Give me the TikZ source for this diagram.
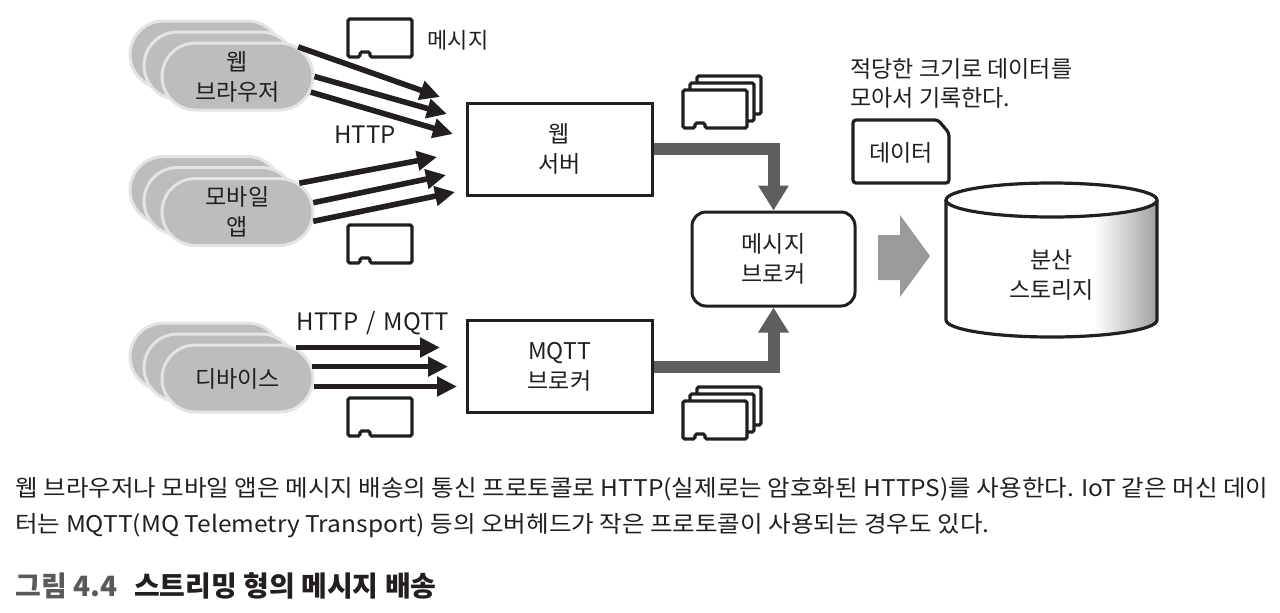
\documentclass[tikz,border=0pt]{standalone}
\usepackage{fontspec}
\setmainfont{Noto Sans CJK KR}
\usetikzlibrary{arrows.meta,shapes.misc,calc}
\definecolor{pillfill}{HTML}{BDBDBD}
\definecolor{pillline}{HTML}{E4E4E4}
\definecolor{conn}{HTML}{5E5E5E}
\definecolor{bigarrow}{HTML}{9A9A9A}
\definecolor{ink}{HTML}{231F20}
\definecolor{titlegray}{HTML}{5A5A5A}
\newlength\capw
\newcommand\capfont{\fontsize{11.5}{13}\selectfont}
\newcommand\capone{웹 브라우저나 모바일 앱은 메시지 배송의 통신 프로토콜로 HTTP(실제로는 암호화된 HTTPS)를 사용한다. IoT 같은 머신 데이}
\newcommand\captwo{터는 MQTT(MQ Telemetry Transport) 등의 오버헤드가 작은 프로토콜이 사용되는 경우도 있다.}
\tikzset{
  msgicon/.pic={\draw[icon] (0,0) -- (64,0) -- (64,38) -- (22,38) -- (22,33) -- (12,33) -- (12,38) -- (0,38) -- cycle;},
  msgstack/.pic={\draw[icon] (14,-14) rectangle (78,24);
                 \draw[icon] (7,-7) rectangle (71,31);
                 \draw[icon] (0,0) -- (64,0) -- (64,38) -- (22,38) -- (22,33) -- (12,33) -- (12,38) -- (0,38) -- cycle;}
}
\begin{document}
\settowidth{\capw}{\capfont\capone}%
\pgfmathsetmacro\capsx{626.5pt/\capw}%
\begin{tikzpicture}[x=0.5pt,y=-0.5pt,
  every node/.style={text=ink},
  icon/.style={draw=ink, line width=1.6pt, fill=white, rounded corners=0.8pt},
  pill/.style={rounded rectangle, draw=pillline, line width=1.5pt, fill=pillfill, minimum width=75.5pt, minimum height=33.5pt, inner sep=0pt},
  ptext/.style={align=center, inner sep=0pt, font=\fontsize{11.5}{15}\selectfont},
  box/.style={draw=ink, line width=1.5pt, fill=white, minimum width=92.5pt, minimum height=46pt, align=center, inner sep=0pt, font=\fontsize{11.5}{15}\selectfont},
  lbl/.style={inner sep=0pt, font=\fontsize{11}{13}\selectfont},
  blk/.style={draw=ink, line width=2.8pt, -{Triangle[length=10pt,width=9.5pt]}},
  gra/.style={draw=conn, line width=6pt, -{Triangle[length=12.5pt,width=14.5pt]}}
]
\useasboundingbox (0,0) rectangle (1280,612);
\fill[white] (0,0) rectangle (1280,612);

% ---- clients
\node[pill] (wbB) at (205.5,54.5) {};
\node[pill] (wbM) at (219.5,65.5) {};
\node[pill] (wb) at (237.5,76.5) {};
\node[ptext] (wbT) at (wb) {웹\\브라우저};

\node[pill] (maB) at (205.5,190) {};
\node[pill] (maM) at (219.5,201) {};
\node[pill] (ma) at (237.5,212) {};
\node[ptext] (maT) at (ma) {모바일\\앱};

\node[pill] (devB) at (205.5,356.5) {};
\node[pill] (devM) at (219.5,367.5) {};
\node[pill] (dev) at (237.5,378.5) {};
\node[ptext] (devT) at (dev) {디바이스};

% ---- servers
\node[box] (ws) at (559.5,149) {웹\\서버};
\node[box] (mq) at (559.5,366.5) {MQTT\\브로커};
\node[box, rounded corners=7pt, minimum width=81.5pt, minimum height=47pt] (mb) at (773.5,259) {메시지\\브로커};

% ---- arrows from clients
\coordinate (wt1) at (440,97);
\coordinate (wt2) at (447,114);
\coordinate (wt3) at (453,134);
\draw[blk] (wb.26) -- (wt1);
\draw[blk] (wb.east) -- (wt2);
\draw[blk] (wb.-12) -- (wt3);

\coordinate (mt1) at (437,157);
\coordinate (mt2) at (446,175);
\coordinate (mt3) at (455,192);
\draw[blk] (ma.25) -- (mt1);
\draw[blk] (ma.7) -- (mt2);
\draw[blk] (ma.-7) -- (mt3);

\coordinate (dx1) at (440,348);
\coordinate (dx2) at (448,366);
\coordinate (dx3) at (457,387);
\draw[blk] (dev.28) -- (dev.28 -| dx1);
\draw[blk] (dev.9.5) -- (dev.9.5 -| dx2);
\draw[blk] (dev.-6.4) -- (dev.-6.4 -| dx3);

% ---- labels and message icons
\node[lbl] (msgl) at (458,40) {메시지};
\node[lbl, font=\fontsize{12}{14}\selectfont] (http) at (365,135) {HTTP};
\node[lbl, font=\fontsize{12}{14}\selectfont] (httpm) at (373,323) {HTTP\,\,/\,\,MQTT};
\pic at (348,19) {msgicon};
\pic at (348,225) {msgicon};
\pic at (348,398) {msgicon};
\pic at (683,90) {msgstack};
\pic at (683,401) {msgstack};

% ---- grey connectors to broker
\draw[gra] (ws.east) -| (mb.north);
\draw[gra] (mq.east) -| (mb.south);

% ---- big block arrow
\fill[bigarrow] (878,235) -- (900,235) -- (900,215) -- (930,256) -- (900,297) -- (900,280) -- (878,280) -- cycle;

% ---- storage cylinder
\path[fill=white] (946,200) -- (946,320) arc[start angle=180,end angle=360,x radius=52.75pt,y radius=8.5pt] -- (1157,200) -- cycle;
\begin{scope}
  \clip (946,200) -- (946,320) arc[start angle=180,end angle=360,x radius=52.75pt,y radius=8.5pt] -- (1157,200) -- cycle;
  \shade[left color=white, right color=black!38] (1095,180) rectangle (1158,345);
\end{scope}
\draw[ink, line width=1.6pt] (946,200) -- (946,320) arc[start angle=180,end angle=360,x radius=52.75pt,y radius=8.5pt] -- (1157,200);
\draw[ink, line width=1.6pt, fill=white] (1051.5,200) ellipse[x radius=52.75pt, y radius=8.5pt];
\node[ptext] (stor) at (1051.5,275) {분산\\스토리지};

% ---- data document
\draw[ink, line width=1.6pt, fill=white, rounded corners=1.5pt] (853,120) -- (938,120) -- (949,133) -- (949,183) -- (853,183) -- cycle;
\node[lbl, font=\fontsize{11.5}{13}\selectfont] (data) at (901,153) {데이터};
\node[anchor=west, align=left, inner sep=0pt, font=\fontsize{11.5}{14.75}\selectfont] (note) at (850,83.5) {적당한 크기로 데이터를\\모아서 기록한다.};

% ---- caption
\node[anchor=west, inner sep=0pt, font=\capfont] (cap1) at (15,489) {\scalebox{\capsx}[1]{\capone}};
\node[anchor=west, inner sep=0pt, font=\capfont] (cap2) at (15,526) {\scalebox{\capsx}[1]{\captwo}};
\node[anchor=west, inner sep=0pt, font=\fontsize{14}{16}\selectfont\bfseries] (title) at (15,586) {\textcolor{titlegray}{그림 4.4}\hspace{0.6em}스트리밍 형의 메시지 배송};
\end{tikzpicture}
\end{document}
